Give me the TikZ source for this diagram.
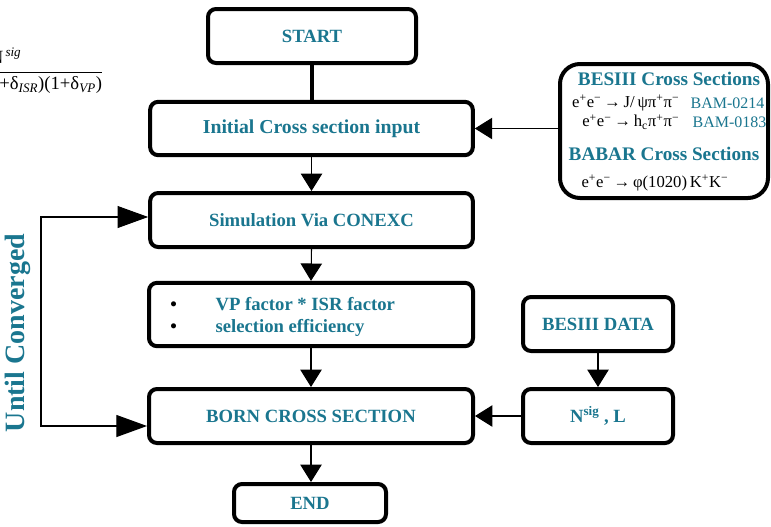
\documentclass[tikz,border=0pt]{standalone}
\usepackage{fontspec}
\setmainfont{Liberation Serif}
\usetikzlibrary{arrows.meta,calc}
\definecolor{teal1}{RGB}{26,118,143}
\begin{document}
\begin{tikzpicture}[x=0.75pt,y=-0.75pt,
  box/.style={draw=black, line width=3pt, rounded corners=6pt, inner sep=0pt, fill=white,
    font=\fontsize{14}{17}\selectfont\bfseries, text=teal1, align=center},
  conn/.style={line width=0.8pt, -{Triangle[width=16pt,length=13pt]}},
  loop/.style={line width=0.8pt, {Triangle[width=16.5pt,length=23pt]}-{Triangle[width=16.5pt,length=23pt]}},
  hd/.style={font=\fontsize{14.4}{17}\selectfont\bfseries, text=teal1},
  rx/.style={font=\fontsize{12.5}{15}\selectfont, text=black},
  bam/.style={font=\fontsize{12}{14}\selectfont, text=teal1}]
\useasboundingbox (0,0) rectangle (771,526);
\clip (0,0) rectangle (771,526);

% partial formula top-left (cut off at the left edge, as in the reference)
\node[anchor=east, inner sep=0pt, font=\fontsize{14}{16}\selectfont] (frac) at (104,71)
  {$\displaystyle\frac{\mbox{N\textsuperscript{\,\textit{sig}}}}{\mbox{\hspace*{56pt}(1+δ\textsubscript{\textit{ISR}})(1+δ\textsubscript{\textit{VP}})}}$};

% main column
\node[box, minimum width=156pt, minimum height=40.5pt] (start) at (312,36) {START};
\node[box, minimum width=242pt, minimum height=40pt, font=\fontsize{14.8}{17}\selectfont\bfseries] (init) at (311.5,128.5) {Initial Cross section input};
\node[box, minimum width=242pt, minimum height=40.5pt] (sim) at (311.5,220) {Simulation Via CONEXC};
\node[box, minimum width=243pt, minimum height=47.5pt] (vp) at (311,314.5) {};
\node[anchor=west, inner sep=0pt, font=\fontsize{14}{17}\selectfont\bfseries, text=teal1] (vptext) at (170,317)
  {\begin{tabular}{@{}l@{}}
   \makebox[34pt][l]{\textcolor{black}{\textbullet}}VP factor * ISR factor\\
   \makebox[34pt][l]{\textcolor{black}{\textbullet}}selection efficiency
   \end{tabular}};
\node[box, minimum width=243pt, minimum height=40.5pt] (born) at (311,416) {BORN CROSS SECTION};
\node[box, minimum width=114pt, minimum height=28.5pt] (end) at (310,503) {END};

% right column
\node[box, rounded corners=15pt, minimum width=156pt, minimum height=100.5pt] (cs) at (664,131) {};
\node[hd] (h1) at (669,79) {BESIII Cross Sections};
\node[rx, anchor=east] (r1) at (684,103) {e\textsuperscript{+}e\textsuperscript{−}\,\textbf{→}\,J/\,ψπ\textsuperscript{+}π\textsuperscript{−}};
\node[bam, anchor=west] (b1) at (686,103) {BAM-0214};
\node[rx, anchor=east] (r2) at (684,122) {e\textsuperscript{+}e\textsuperscript{−}\,\textbf{→}\,h\textsubscript{c}π\textsuperscript{+}π\textsuperscript{−}};
\node[bam, anchor=west] (b2) at (688,122) {BAM-0183};
\node[hd] (h2) at (664,154) {BABAR Cross Sections};
\node[rx] (r3) at (655,183) {e\textsuperscript{+}e\textsuperscript{−}\,\textbf{→}\,φ(1020)\,K\textsuperscript{+}K\textsuperscript{−}};

\node[box, minimum width=112.5pt, minimum height=40.5pt] (data) at (598,324) {BESIII DATA};
\node[box, minimum width=112.5pt, minimum height=40.5pt] (nsig) at (598,416) {N\textsuperscript{sig} , L};

% connectors
\draw[line width=3.5pt] (start.south) -- (init.north -| start.south);
\draw[conn] (init.south) -- (sim.north);
\draw[conn] (sim.south) -- (vp.north);
\draw[conn] (vp.south) -- (born.north);
\draw[conn] (born.south) -- (end.north -| born.south);
\draw[conn] (cs.west |- init.east) -- (init.east);
\draw[conn] (data.south) -- (nsig.north);
\draw[conn] (nsig.west) -- (born.east);

\coordinate (lb) at (41,426);
\coordinate (lt) at (41,217);
\draw[loop] (born.west |- lb) -- (lb) -- (lt) -- (sim.west |- lt);
\node[rotate=90, font=\fontsize{21}{24}\selectfont\bfseries, text=teal1] (until) at (18,333) {Until Converged};
\end{tikzpicture}
\end{document}
